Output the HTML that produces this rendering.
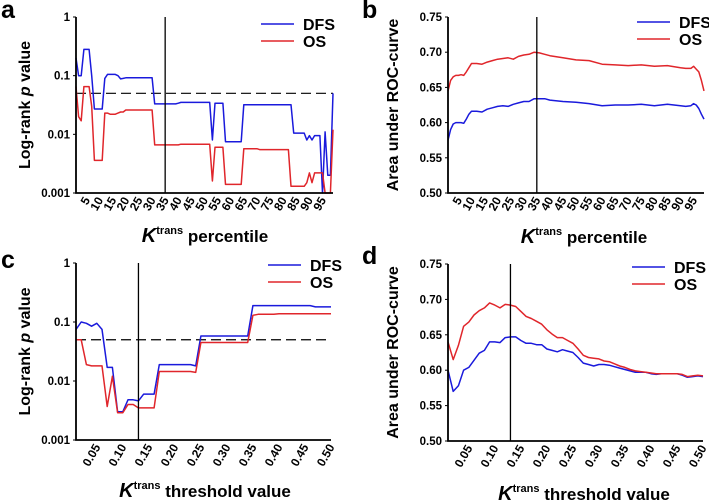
<!DOCTYPE html>
<html><head><meta charset="utf-8"><style>
html,body{margin:0;padding:0;background:#fff}
svg{display:block;font-family:"Liberation Sans",Arial,sans-serif;font-weight:bold}
</style></head><body>
<svg id="chart" width="709" height="501" viewBox="0 0 709 501"></svg>
<script>
// Panel a data (percentile vs log-rank p)
const pctA = [1,2,3,4,5,6,7,8,9,10,11,12,13,14,15,16,17,18,19,20,21,22,23,24,25,26,27,28,29,30,31,32,33,34,35,36,37,38,39,40,41,42,43,44,45,46,47,48,49,50,51,52,53,54,55,56,57,58,59,60,61,62,63,64,65,66,67,68,69,70,71,72,73,74,75,76,77,78,79,80,81,82,83,84,85,86,87,88,89,90,91,92,93,94,95,96,97,98,99];
const dfsA = [0.2,0.1,0.1,0.28,0.28,0.28,0.1,0.027,0.027,0.027,0.027,0.09,0.105,0.105,0.105,0.105,0.1,0.088,0.09,0.092,0.092,0.092,0.092,0.092,0.092,0.092,0.092,0.092,0.092,0.092,0.033,0.033,0.033,0.033,0.033,0.033,0.033,0.033,0.033,0.034,0.035,0.035,0.035,0.035,0.035,0.035,0.035,0.035,0.035,0.035,0.035,0.035,0.008,0.034,0.034,0.034,0.034,0.0075,0.0075,0.0075,0.0075,0.0075,0.0075,0.0075,0.032,0.032,0.032,0.032,0.032,0.032,0.032,0.032,0.032,0.032,0.032,0.032,0.032,0.032,0.032,0.032,0.032,0.032,0.032,0.0105,0.0105,0.0105,0.0105,0.0105,0.008,0.0095,0.008,0.0095,0.0095,0.0095,0.001,0.011,0.002,0.002,0.05];
const osA = [0.065,0.02,0.017,0.065,0.065,0.065,0.03,0.0036,0.0036,0.0036,0.0036,0.023,0.023,0.022,0.022,0.022,0.023,0.024,0.024,0.026,0.026,0.026,0.026,0.026,0.026,0.026,0.026,0.026,0.026,0.026,0.0066,0.0066,0.0066,0.0066,0.0066,0.0066,0.0066,0.0066,0.0066,0.0066,0.0068,0.0068,0.0068,0.0068,0.0068,0.0068,0.0068,0.0068,0.0068,0.0068,0.0068,0.0068,0.0016,0.006,0.006,0.006,0.006,0.0014,0.0014,0.0014,0.0014,0.0014,0.0014,0.0014,0.0057,0.0057,0.0057,0.0057,0.0057,0.0057,0.0055,0.0055,0.0055,0.0055,0.0055,0.0055,0.0055,0.0055,0.0055,0.0055,0.0055,0.0055,0.0013,0.0013,0.0013,0.0013,0.0013,0.0013,0.0015,0.0022,0.0015,0.0022,0.0022,0.0022,0.0022,0.001,0.001,0.001,0.012];
// Panel b data (percentile vs AUC)
const pctB = [1,2,3,4,5,6,7,8,9,10,12,14,16,18,20,22,24,26,28,30,32,34,36,38,40,45,50,55,60,65,70,75,80,85,90,92,94,95,96,97,98,99];
const osB = [0.645,0.660,0.665,0.667,0.667,0.668,0.667,0.672,0.678,0.684,0.684,0.683,0.686,0.688,0.690,0.691,0.692,0.690,0.694,0.696,0.697,0.700,0.699,0.697,0.695,0.692,0.689,0.688,0.683,0.682,0.681,0.682,0.680,0.681,0.678,0.677,0.677,0.680,0.676,0.672,0.660,0.645];
const dfsB = [0.575,0.590,0.598,0.600,0.600,0.600,0.599,0.605,0.612,0.616,0.616,0.615,0.619,0.621,0.623,0.624,0.623,0.626,0.628,0.630,0.630,0.634,0.634,0.634,0.632,0.630,0.629,0.627,0.624,0.625,0.625,0.626,0.624,0.626,0.624,0.623,0.624,0.627,0.625,0.620,0.612,0.605];
// Panels c/d thresholds
const thr = [0.01,0.02,0.03,0.04,0.05,0.06,0.07,0.08,0.09,0.10,0.11,0.12,0.13,0.14,0.15,0.16,0.17,0.18,0.19,0.20,0.21,0.22,0.23,0.24,0.25,0.26,0.27,0.28,0.29,0.30,0.31,0.32,0.33,0.34,0.35,0.36,0.37,0.38,0.39,0.40,0.41,0.42,0.43,0.44,0.45,0.46,0.47,0.48,0.49,0.50];
const dfsC = [0.075,0.1,0.095,0.085,0.095,0.075,0.017,0.017,0.003,0.003,0.0048,0.0048,0.0046,0.006,0.006,0.006,0.019,0.019,0.019,0.019,0.019,0.019,0.019,0.018,0.058,0.058,0.058,0.058,0.058,0.058,0.058,0.058,0.058,0.058,0.19,0.19,0.19,0.19,0.19,0.19,0.19,0.19,0.19,0.19,0.19,0.19,0.18,0.18,0.18,0.18];
const osC = [0.05,0.05,0.019,0.018,0.018,0.018,0.0037,0.012,0.0029,0.0029,0.004,0.004,0.0035,0.0035,0.0035,0.0035,0.0145,0.0145,0.0145,0.0145,0.0145,0.0145,0.0145,0.014,0.045,0.045,0.045,0.045,0.045,0.045,0.045,0.045,0.045,0.045,0.13,0.135,0.135,0.135,0.135,0.138,0.138,0.138,0.138,0.138,0.138,0.138,0.138,0.138,0.138,0.138];
const osD = [0.64,0.615,0.635,0.662,0.668,0.678,0.684,0.688,0.695,0.692,0.688,0.693,0.692,0.690,0.683,0.676,0.673,0.669,0.665,0.657,0.651,0.646,0.646,0.642,0.638,0.630,0.621,0.618,0.617,0.616,0.613,0.612,0.609,0.606,0.604,0.601,0.599,0.598,0.597,0.596,0.595,0.595,0.595,0.595,0.595,0.594,0.591,0.592,0.593,0.592];
const dfsD = [0.600,0.570,0.578,0.600,0.604,0.614,0.624,0.628,0.640,0.640,0.639,0.646,0.647,0.647,0.642,0.638,0.638,0.636,0.636,0.630,0.628,0.626,0.629,0.627,0.625,0.618,0.610,0.608,0.606,0.608,0.608,0.607,0.605,0.603,0.601,0.599,0.597,0.597,0.597,0.595,0.594,0.595,0.595,0.595,0.595,0.593,0.590,0.591,0.592,0.591];
const pctTicks = [5,10,15,20,25,30,35,40,45,50,55,60,65,70,75,80,85,90,95];
const thrTicks = [0.05,0.10,0.15,0.20,0.25,0.30,0.35,0.40,0.45,0.50];
const logTicks = [1,0.1,0.01,0.001];
const logTickLabels = ["1","0.1","0.01","0.001"];
const aucTicks = [0.75,0.70,0.65,0.60,0.55,0.50];

const NS="http://www.w3.org/2000/svg";
const svg=document.getElementById('chart');
function mk(tag,attrs,parent,text){const e=document.createElementNS(NS,tag);for(const k in attrs)e.setAttribute(k,attrs[k]);if(text!==undefined)e.textContent=text;(parent||svg).appendChild(e);return e;}

function panel(o){
  const g=mk('g',{});
  
  
  const xs=v=>o.x0+(v-o.xmin)/(o.xmax-o.xmin)*(o.x1-o.x0);
  const ys=o.log?(v=>o.y0+(-Math.log10(Math.max(v,0.001)))/3*(o.y1-o.y0)):(v=>o.y1-(v-o.ymin)/(o.ymax-o.ymin)*(o.y1-o.y0));
  const lt=mk('text',{x:o.lx,y:o.ly,'font-size':25},g,o.letter);
  
  
  o.yt.forEach((t,i)=>{
    const e=mk('text',{x:o.x0-6,y:ys(t)+4,'font-size':11.5,'text-anchor':'end'},g,o.ytl[i]);
    
    
    mk('line',{x1:o.x0-3,x2:o.x0,y1:ys(t),y2:ys(t),stroke:'#000','stroke-width':1},g);
  });
  o.xt.forEach((t,i)=>{
    const x=xs(t);
    const e=mk('text',{x:x+4,y:o.y1+7,'font-size':12,'text-anchor':'end',transform:`rotate(-60 ${x+4} ${o.y1+7})`},g,o.xtl[i]);
    
    
  });
  const cy=(o.y0+o.y1)/2;
  const yt=mk('text',{x:o.ytx,y:cy,'font-size':16,'text-anchor':'middle',transform:`rotate(-90 ${o.ytx} ${cy})`},g);
  
  
  if(o.log){mk('tspan',{},yt,'Log-rank ');mk('tspan',{'font-style':'italic'},yt,'p');mk('tspan',{},yt,' value');}
  else yt.textContent='Area under ROC-curve';
  const xt=mk('text',{x:o.xtx,y:o.xty,'font-size':17,'text-anchor':'middle'},g);
  
  
  mk('tspan',{'font-style':'italic','font-size':20},xt,'K');
  mk('tspan',{'font-size':11,dy:-8},xt,'trans');
  mk('tspan',{dy:8},xt,' '+o.xtitle);
  if(o.log){const d=mk('line',{x1:o.x0,x2:o.x1,y1:ys(0.05),y2:ys(0.05),stroke:'#000','stroke-width':1.2,'stroke-dasharray':'10,5'},g);
    }
  [[o.blue,'#1a1adc','dfs-line'],[o.red,'#e0262b','os-line']].forEach(([arr,c,n])=>{
    const p=mk('polyline',{points:arr.map((v,i)=>xs(o.xv[i]).toFixed(1)+','+ys(v).toFixed(1)).join(' '),fill:'none',stroke:c,'stroke-width':1.5,'stroke-linejoin':'round'},g);
    
    
  });
  const vl=mk('line',{x1:xs(o.vx),x2:xs(o.vx),y1:o.y0,y2:o.y1,stroke:'#000','stroke-width':1.3},g);
  
  const ax=mk('path',{d:`M${o.x0},${o.y0}V${o.y1}H${o.x1}`,fill:'none',stroke:'#000','stroke-width':1.8},g);
  
  [['DFS','#1a1adc',o.lgy],['OS','#e0262b',o.lgy+17]].forEach(([t,c,y])=>{
    const le=mk('g',{},g);
    
    
    mk('line',{x1:o.lgx,x2:o.lgx+33,y1:y,y2:y,stroke:c,'stroke-width':1.6},le);
    mk('text',{x:o.lgx+42,y:y+6,'font-size':16},le,t);
  });
}
const fmt=v=>v.toFixed(2);
panel({letter:'a',lx:1,ly:18,x0:76,x1:333,y0:17,y1:193,xmin:1,xmax:99,log:true,yt:logTicks,ytl:logTickLabels,xt:pctTicks,xtl:pctTicks.map(String),xv:pctA,blue:dfsA,red:osA,vx:35,ytx:30,xtx:205,xty:242,xtitle:'percentile',lgx:261,lgy:24});
panel({letter:'b',lx:362,ly:18,x0:448,x1:704,y0:17,y1:193,xmin:1,xmax:99,ymin:0.5,ymax:0.75,log:false,yt:aucTicks,ytl:aucTicks.map(fmt),xt:pctTicks,xtl:pctTicks.map(String),xv:pctB,blue:dfsB,red:osB,vx:35,ytx:398,xtx:584,xty:243,xtitle:'percentile',lgx:637,lgy:22});
panel({letter:'c',lx:1,ly:268,x0:76,x1:331,y0:263,y1:440,xmin:0.01,xmax:0.50,log:true,yt:logTicks,ytl:logTickLabels,xt:thrTicks,xtl:thrTicks.map(fmt),xv:thr,blue:dfsC,red:osC,vx:0.13,ytx:30,xtx:205,xty:497,xtitle:'threshold value',lgx:268,lgy:265});
panel({letter:'d',lx:362,ly:264,x0:448,x1:703,y0:264,y1:441,xmin:0.01,xmax:0.50,ymin:0.5,ymax:0.75,log:false,yt:aucTicks,ytl:aucTicks.map(fmt),xt:thrTicks,xtl:thrTicks.map(fmt),xv:thr,blue:dfsD,red:osD,vx:0.13,ytx:398,xtx:584,xty:500,xtitle:'threshold value',lgx:632,lgy:267});
</script>
</body></html>
